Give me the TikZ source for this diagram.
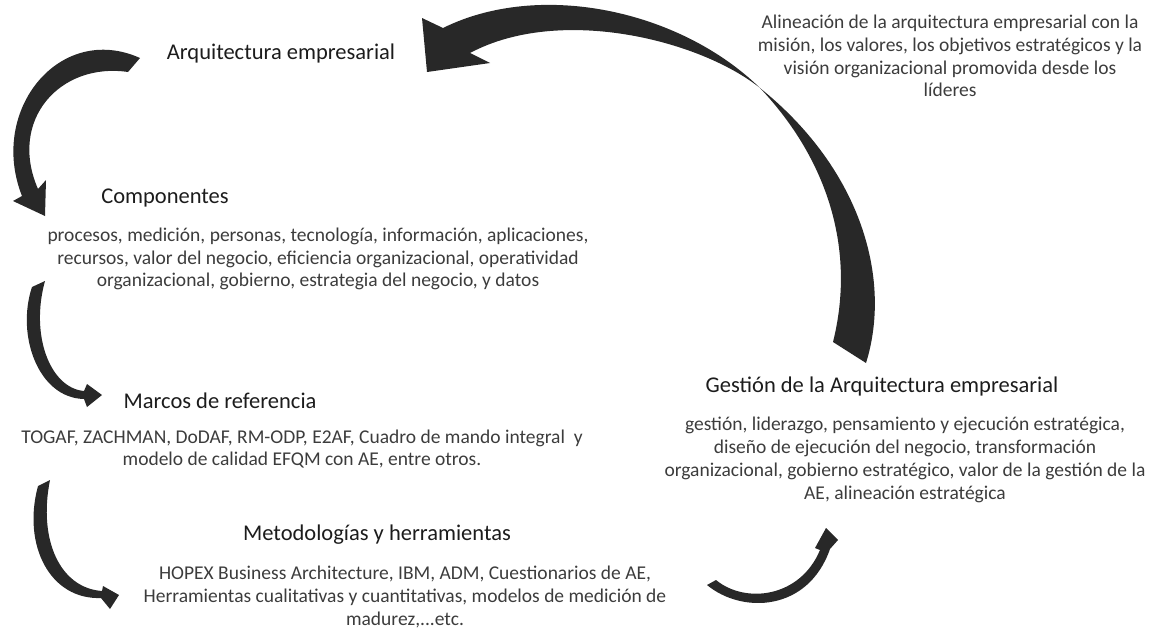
\documentclass[tikz,border=0pt]{standalone}
\usepackage{fontspec}
\setmainfont{Carlito}
\definecolor{titcol}{HTML}{1C1C1C}
\definecolor{txtcol}{HTML}{3C3C3C}
\definecolor{flechacol}{HTML}{282828}
\tikzset{
  titulo/.style={font=\fontsize{22.5}{27}\selectfont, text=titcol, inner sep=0pt, anchor=base},
  cuerpo/.style={font=\fontsize{19.5}{22.8}\selectfont, text=txtcol, align=center, inner sep=0pt},
  flecha/.style={fill=flechacol, draw=none},
}
\begin{document}
\begin{tikzpicture}[x=1pt,y=-1pt]
  \path[use as bounding box] (0,0) rectangle (1151,632);

  \node[titulo] (arq) at (281,59) {Arquitectura empresarial};
  \node[titulo] (comp) at (165,203) {Componentes};
  \node[cuerpo] (compTxt) at (318,259) {procesos, medición, personas, tecnología, información, aplicaciones,\\
    recursos, valor del negocio, eficiencia organizacional, operatividad\\
    organizacional, gobierno, estrategia del negocio, y datos};
  \node[titulo] (marcos) at (220,408) {Marcos de referencia};
  \node[cuerpo] (marcosTxt) at (302,449) {TOGAF, ZACHMAN, DoDAF, RM-ODP, E2AF, Cuadro de mando integral\ \ y\\
    modelo de calidad EFQM con AE, entre otros.};
  \node[titulo] (metod) at (377,540) {Metodologías y herramientas};
  \node[cuerpo] (metodTxt) at (405,597) {HOPEX Business Architecture, IBM, ADM, Cuestionarios de AE,\\
    Herramientas cualitativas y cuantitativas, modelos de medición de\\
    madurez,...etc.};
  \node[titulo] (gest) at (882,392) {Gestión de la Arquitectura empresarial};
  \node[cuerpo] (gestTxt) at (905,460) {gestión, liderazgo, pensamiento y ejecución estratégica,\\
    diseño de ejecución del negocio, transformación\\
    organizacional, gobierno estratégico, valor de la gestión de la\\
    AE, alineación estratégica};
  \node[cuerpo] (alin) at (950,56) {Alineación de la arquitectura empresarial con la\\
    misión, los valores, los objetivos estratégicos y la\\
    visión organizacional promovida desde los\\
    líderes};

  % arquitectura -> componentes
  \fill[flecha] (140,58) .. controls (60,22) and (-12,110) .. (22,196)
    -- (13,201) -- (45,216) -- (46,180) -- (38,189)
    .. controls (8,120) and (60,62) .. (128,72) -- cycle;
  % componentes -> marcos
  \fill[flecha] (32,287) .. controls (16,335) and (38,398) .. (84,399)
    -- (87,407) -- (102,395) -- (87,384) -- (84,391)
    .. controls (50,388) and (30,335) .. (45,281) -- cycle;
  % marcos -> metodologias
  \fill[flecha] (38,486) .. controls (22,545) and (50,600) .. (101,598)
    -- (110,609) -- (119,595) -- (103,586) -- (102,591)
    .. controls (60,588) and (38,540) .. (50,480) -- cycle;
  % metodologias -> gestion
  \fill[flecha] (707,585) .. controls (742,614) and (808,612) .. (830,549)
    -- (838,540) -- (826,528) -- (815,548) -- (820,550)
    .. controls (800,598) and (745,604) .. (716,580) -- cycle;
  % gestion -> arquitectura
  \fill[flecha] (866,363) .. controls (892,280) and (862,170) .. (760,88)
    .. controls (700,40) and (560,5) .. (470,53)
    -- (490,63) -- (427,72) -- (422,18) -- (443,28)
    .. controls (540,-20) and (680,10) .. (760,88)
    .. controls (828,160) and (856,250) .. (833,342) -- cycle;
\end{tikzpicture}
\end{document}
